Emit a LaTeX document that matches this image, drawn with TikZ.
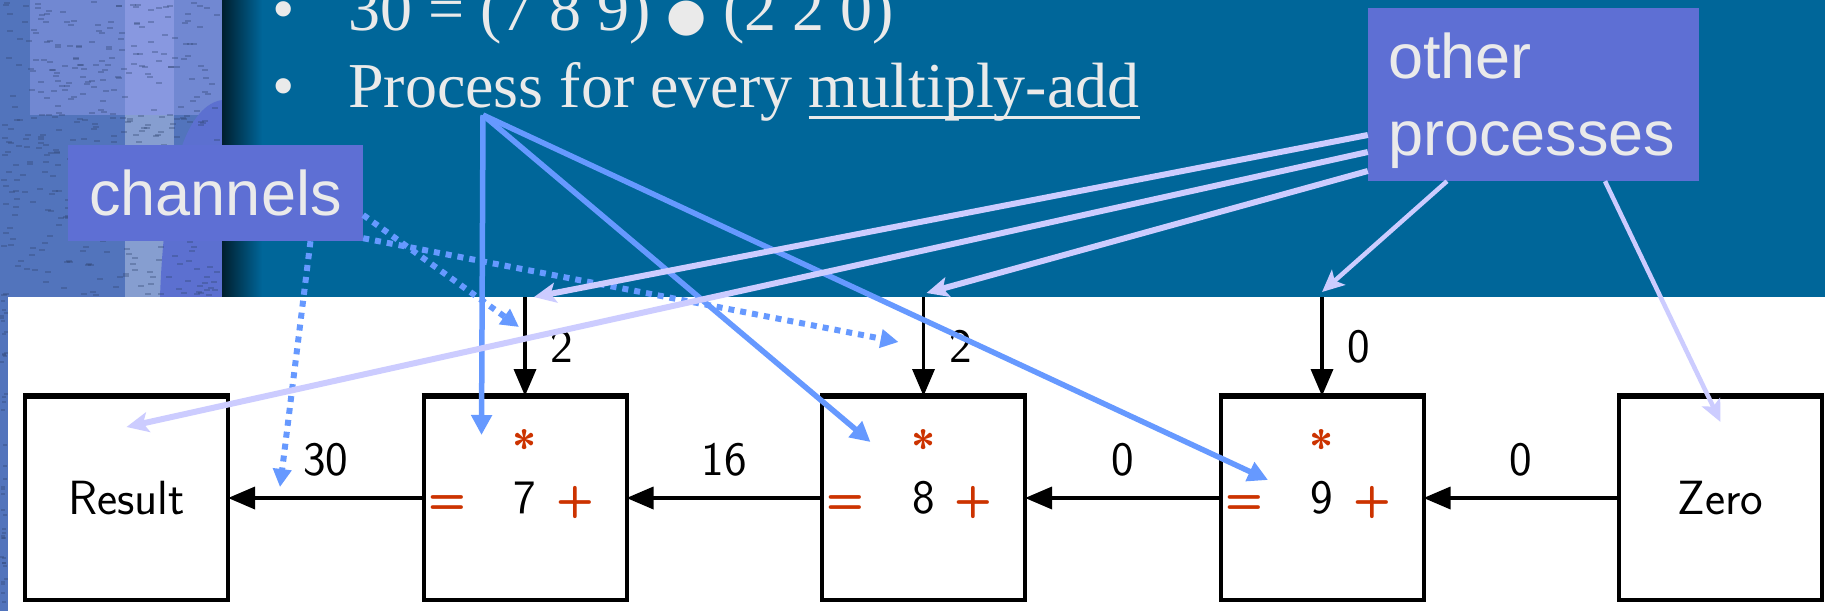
\documentclass[tikz,border=0pt]{standalone}
\usepackage{fontspec}
\usetikzlibrary{arrows.meta,positioning,calc}
\newfontfamily\slidefont{Liberation Serif}
\newfontfamily\calloutfont{Liberation Sans}
\newfontfamily\symfont{DejaVu Sans}
\definecolor{slideblue}{RGB}{0,102,153}
\definecolor{calloutfill}{RGB}{94,111,212}
\definecolor{slidetext}{RGB}{234,234,234}
\definecolor{pointblue}{RGB}{102,153,255}
\definecolor{lavender}{RGB}{204,204,255}
\definecolor{opred}{RGB}{204,51,0}
\definecolor{cloth}{RGB}{82,116,188}

\begin{document}
\begin{tikzpicture}[x=1pt, y=-1pt,
  procbox/.style={rectangle, draw, line width=4pt, outer sep=0pt, minimum width=203pt, minimum height=204pt, inner sep=0pt, font=\fontsize{48}{56}\sffamily},
  opsym/.style={text=opred, inner sep=0pt, font=\fontsize{44}{48}\sffamily\bfseries},
  chanlabel/.style={font=\fontsize{48}{56}\sffamily, inner sep=0pt},
  chan/.style={-{Triangle[length=27pt,width=22pt]}, line width=3.5pt},
  callout/.style={fill=calloutfill, text=slidetext, font=\fontsize{63}{77}\calloutfont, align=left, inner xsep=20pt},
  bullettext/.style={text=slidetext, font=\fontsize{64}{77}\slidefont, inner sep=0pt, anchor=base west},
  pointer/.style={-{Triangle[length=20pt,width=20pt]}, draw=pointblue, line width=5.5pt},
  other/.style={-{Stealth[length=22pt,width=20pt,inset=5pt]}, draw=lavender, line width=6pt},
  dotline/.style={-{Triangle[length=18pt,width=18pt]}, draw=pointblue, line width=6pt, dash pattern=on 6pt off 6pt}
]
\useasboundingbox (0,0) rectangle (1825,611);

% slide background
\fill[cloth] (0,0) rectangle (222,297);
\fill[cloth] (0,297) rectangle (8,611);
\fill[cloth!75!white!90!blue] (30,0) rectangle (125,115);
\fill[cloth!55!white!85!blue] (125,0) rectangle (174,115);
\fill[cloth!70!white] (125,115) rectangle (174,297);
\fill[cloth!75!white!90!blue] (174,0) rectangle (222,115);
\fill[calloutfill!85!cloth] (222,100) .. controls (190,105) and (165,160) .. (160,297) -- (222,297) -- cycle;
\pgfmathsetseed{11}
\foreach \i in {1,...,420}
  \fill[cloth!60!black, opacity=0.35] ({rnd*216},{rnd*295}) rectangle ++(6,2);
\foreach \i in {1,...,40}
  \fill[cloth!60!black, opacity=0.35] ({rnd*4},{297+rnd*310}) rectangle ++(4,2);
\fill[slideblue] (222,0) rectangle (1825,297);
\shade[left color=slideblue!30!black, right color=slideblue] (222,0) rectangle (262,297);
\fill[white] (8,297) rectangle (1825,611);

\node[bullettext] (bul1) at (272,30) {•};
\node[bullettext] (line1) at (348,30) {30 = (7 8 9) {\symfont\fontsize{46}{46}\selectfont ●} (2 2 0)};
\node[bullettext] (bul2) at (272,107) {•};
\node[bullettext] (line2) at (348,107) {Process for every};
\node[bullettext, right=16pt of line2.base east, anchor=base west] (madd) {multiply-add};
\draw[slidetext, line width=3pt] ([yshift=-10.5pt]madd.base west) -- ([yshift=-10.5pt]madd.base east);

\node[callout, minimum width=295pt, minimum height=96pt] (chan) at (215.5,193) {channels};
\node[callout, text width=291pt, minimum height=173pt] (oth) at (1533.5,94.5) {\rule{0pt}{58pt}other\\processes};

\node[procbox] (res) at (126.5,498) {Result};
\node[procbox, right=195.5pt of res] (m7) {7};
\node[procbox, right=195.5pt of m7] (m8) {8};
\node[procbox, right=195.5pt of m8] (m9) {9};
\node[procbox, right=195.5pt of m9] (zero) {Zero};
\foreach \b in {res,m7,m8,m9,zero}
  \draw[line width=5.5pt] ([xshift=-2pt]\b.north west) -- ([xshift=2pt]\b.north east);

\foreach \b in {m7,m8,m9} {
  \node[opsym, anchor=base] (\b-eq) at ([xshift=-78pt]\b.base) {=};
  \node[opsym, anchor=base] (\b-plus) at ([xshift=50pt]\b.base) {+};
  \node[opsym] (\b-star) at ([yshift=52pt]\b.center) {*};
  \coordinate (\b-in) at (\b.north |- 0,297);
}

\draw[chan] (m7-in) -- node[chanlabel, right=24pt] (v7) {2} (m7.north);
\draw[chan] (m8-in) -- node[chanlabel, right=24pt] (v8) {2} (m8.north);
\draw[chan] (m9-in) -- node[chanlabel, right=24pt] (v9) {0} (m9.north);
\draw[chan] (m7.west) -- node[chanlabel, above=20pt] (h7) {30} (res.east);
\draw[chan] (m8.west) -- node[chanlabel, above=20pt] (h8) {16} (m7.east);
\draw[chan] (m9.west) -- node[chanlabel, above=20pt] (h9) {0} (m8.east);
\draw[chan] (zero.west) -- node[chanlabel, above=20pt] (hz) {0} (m9.east);

\draw[dotline] ([yshift=-22pt]chan.east) -- ([xshift=-6pt,yshift=-30pt]m7-in);
\draw[dotline] ([yshift=3pt]chan.south east) -- ([xshift=-25pt,yshift=-45pt]m8-in);
\draw[dotline] ([xshift=95pt]chan.south) -- ([xshift=52pt,yshift=11pt]res.east);

\coordinate (src) at (483,115);
\draw[pointer] (src) -- ([xshift=-43.5pt,yshift=63pt]m7.center);
\draw[pointer] (src) -- ([xshift=-53pt,yshift=56pt]m8.center);
\draw[pointer] (src) -- ([xshift=-54pt,yshift=18pt]m9.center);

\draw[other] ([yshift=-40.5pt]oth.west) -- ([xshift=9pt]m7-in);
\draw[other] ([yshift=-57.5pt]oth.west) -- ([yshift=71pt]res.center);
\draw[other] ([yshift=-76.5pt]oth.west) -- ([xshift=3pt,yshift=4pt]m8-in);
\draw[other, line width=4.5pt] ([xshift=-86.5pt]oth.south) -- ([yshift=5pt]m9-in);
\draw[other, line width=4.5pt] ([xshift=71.5pt]oth.south) -- ([yshift=76pt]zero.center);
\end{tikzpicture}
\end{document}
